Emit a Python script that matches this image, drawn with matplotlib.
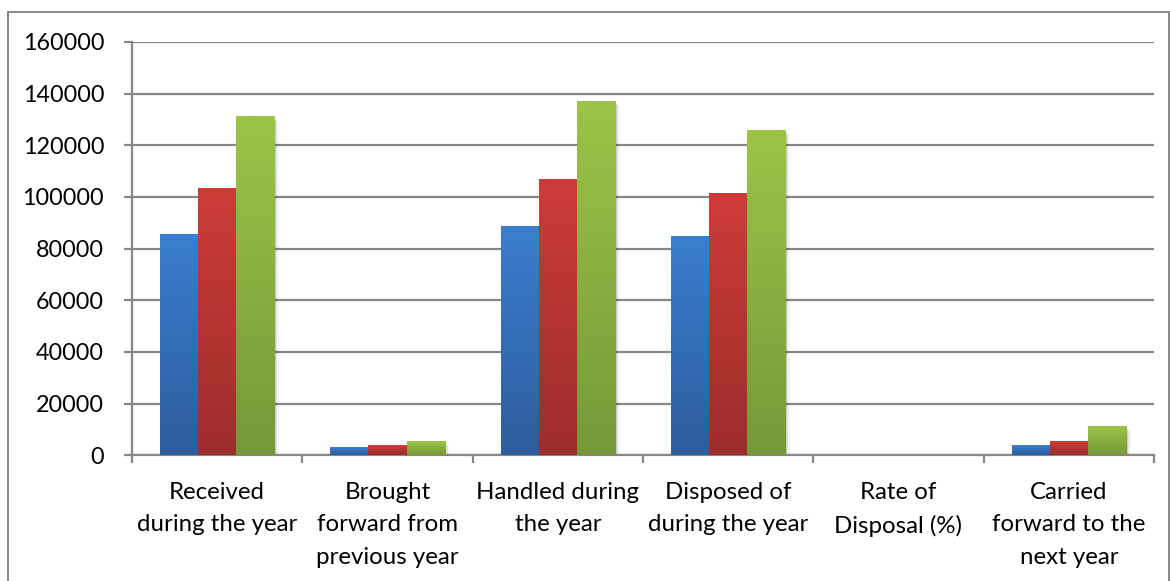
import numpy as np
import matplotlib
matplotlib.use("Agg")
import matplotlib.pyplot as plt
from matplotlib.colors import LinearSegmentedColormap
from matplotlib.patches import Rectangle
import matplotlib.transforms as mtransforms

categories = ["Received\nduring the year", "Brought\nforward from\nprevious year",
              "Handled during\nthe year", "Disposed of\nduring the year",
              "Rate of\nDisposal (%)", "Carried\nforward to the\nnext year"]
series1 = [85300, 3000, 88500, 84600, 95, 3700]
series2 = [103100, 3700, 106600, 101200, 95, 5200]
series3 = [130900, 5300, 136800, 125600, 92, 11000]
yticks = [0, 20000, 40000, 60000, 80000, 100000, 120000, 140000, 160000]

grads = [("#3B7DCE", "#2D5D9C"), ("#CE3C38", "#9B2D2B"), ("#9CC447", "#76983A")]

plt.rcParams['font.family'] = ['Lato', 'DejaVu Sans']
fig = plt.figure(figsize=(11.7, 5.81), dpi=100)
ax = fig.add_axes([132/1170, 1-455.3/581, (1154-132)/1170, (455.3-42)/581])

n = len(categories)
x = np.arange(n)
w = 0.224
gray = "#878787"

for i, (vals, (ctop, cbot)) in enumerate(zip([series1, series2, series3], grads)):
    bars = ax.bar(x + (i - 1) * w, vals, width=w, color="none", edgecolor="none", zorder=3)
    cmap = LinearSegmentedColormap.from_list("g%d" % i, [cbot, ctop])
    for b in bars:
        x0, y0 = b.get_x(), b.get_y()
        bw, bh = b.get_width(), b.get_height()
        if bh < 500:  # below one pixel: not visible in the reference rendering
            continue
        for k, a in enumerate([0.10, 0.07, 0.04]):
            off = mtransforms.offset_copy(ax.transData, fig=fig, x=(k + 1) * 1.5,
                                          y=-(k + 1) * 1.5, units='dots')
            ax.add_patch(Rectangle((x0, y0), bw, bh, facecolor="black", alpha=a,
                                   edgecolor="none", transform=off, zorder=2))
        grad = np.linspace(0, 1, 256).reshape(-1, 1)
        ax.imshow(grad, cmap=cmap, aspect='auto', origin='lower',
                  extent=[x0, x0 + bw, y0, y0 + bh], zorder=3, interpolation='bilinear')

ax.set_xlim(-0.5, n - 0.5)
ax.set_ylim(0, 160000)
ax.set_yticks(yticks)
ax.set_yticklabels([str(t) for t in yticks])
ax.yaxis.grid(True, color=gray, linewidth=1.6, zorder=0)
ax.set_axisbelow(True)

ax.set_xticks(x)
ax.set_xticklabels(categories, linespacing=1.68)
ax.set_xticks(np.arange(-0.5, n, 1.0), minor=True)
ax.tick_params(axis='x', which='major', length=0, pad=19, labelsize=17.3, colors='black')
ax.tick_params(axis='x', which='minor', length=6, width=1.6, color=gray)
ax.tick_params(axis='y', length=6, width=1.6, color=gray, pad=14, labelsize=16.8)

for s in ['top', 'right']:
    ax.spines[s].set_visible(False)
for s in ['left', 'bottom']:
    ax.spines[s].set_color(gray)
    ax.spines[s].set_linewidth(1.6)

fig.patches.append(Rectangle((8/1170, -0.2), (1169 - 8)/1170, 1.2 - 12/581,
                             transform=fig.transFigure, fill=False,
                             edgecolor=gray, linewidth=1.4, clip_on=False))

fig.savefig("out.png", dpi=100)
